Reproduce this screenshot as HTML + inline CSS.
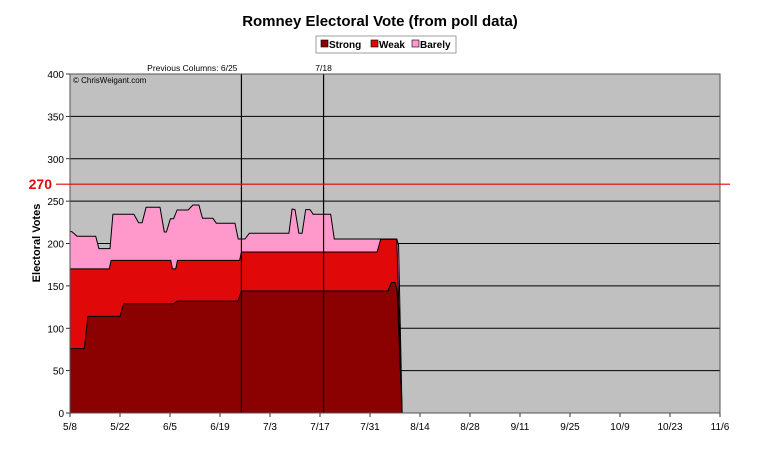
<!DOCTYPE html>
<html><head><meta charset="utf-8"><style>
body{margin:0;background:#fff;width:760px;height:448px;overflow:hidden}
text{font-family:"Liberation Sans",Arial,sans-serif}
</style></head><body>
<svg id="chart" width="760" height="448" xmlns="http://www.w3.org/2000/svg">
<text x="380" y="26" text-anchor="middle" font-size="15" font-weight="bold">Romney Electoral Vote (from poll data)</text>
<g>
<rect x="316" y="36" width="140" height="17" fill="#fff" stroke="#888" stroke-width="0.8"/>
<g><rect x="321" y="40" width="7" height="7" fill="#8b0000" stroke="#000" stroke-width="0.6"/><text x="329" y="48" font-size="10" font-weight="bold">Strong</text></g>
<g><rect x="371" y="40" width="7" height="7" fill="#e00808" stroke="#000" stroke-width="0.6"/><text x="379" y="48" font-size="10" font-weight="bold">Weak</text></g>
<g><rect x="412" y="40" width="7" height="7" fill="#ff99cc" stroke="#000" stroke-width="0.6"/><text x="420" y="48" font-size="10" font-weight="bold">Barely</text></g>
</g>
<rect x="70" y="74" width="650" height="339" fill="#c0c0c0"/>
<g id="grid"></g>
<g id="areas"></g>
<g id="overlay"></g>
<text x="73" y="83" font-size="8">© ChrisWeigant.com</text>
<text transform="translate(40,243) rotate(-90)" text-anchor="middle" font-size="11" font-weight="bold">Electoral Votes</text>
</svg>
<script>
const yTicks=[0,50,100,150,200,250,300,350,400];
const xTickLabels=["5/8","5/22","6/5","6/19","7/3","7/17","7/31","8/14","8/28","9/11","9/25","10/9","10/23","11/6"];
const xTickDays=[0,14,28,42,56,70,84,98,112,126,140,154,168,182];
const markerDays=[48,71];
const markerLabels=["Previous Columns: 6/25","7/18"];
const threshold=270;
const strongDays=[0,4,5,14,15,29,30,47,48,89,90,91,91.6,93];
const strongTop=[76,76,114,114,129,129,132,132,144,144,154,154,145,0];
const weakDays=[0,11,11.5,28.2,28.7,29.6,30.1,47.5,48,86,87,91.5,93];
const weakTop=[170,170,180,180,170,170,180,180,190,190,205,205,0];
const barelyDays=[0,0.5,2,7.2,8.1,11.2,12,17.9,19.2,20.2,21.3,25.2,26.4,27,28.1,29,30,33.1,34.4,36.1,37.1,40,41,46.2,47.1,49,50.2,61.3,62.2,63,64.1,65,66,67.2,68.1,73,74,91.5,92,93];
const barelyTop=[214,214,208.5,208.5,194,194,234.5,234.5,224.6,224.6,242.7,242.7,213.6,213.6,229.3,229.3,239.5,239.5,245.4,245.4,229.7,229.7,223.8,223.8,205.3,205.3,212,212,240.7,240,212,212,240,240,234.5,234.5,205.3,205.3,198,0];

const X0=70,X1=720,Y0=413,Y1=74,DMAX=182,VMAX=400;
const xs=d=>X0+d*(X1-X0)/DMAX;
const ys=v=>Y0-v*(Y0-Y1)/VMAX;
const NS="http://www.w3.org/2000/svg";
function mk(tag,attrs,parent){const e=document.createElementNS(NS,tag);for(const k in attrs)e.setAttribute(k,attrs[k]);parent.appendChild(e);return e;}
const grid=document.getElementById('grid'),areas=document.getElementById('areas'),ov=document.getElementById('overlay');
yTicks.forEach(v=>{
 if(v>0&&v<VMAX){const l=mk('line',{x1:X0,x2:X1,y1:ys(v),y2:ys(v),stroke:'#000','stroke-width':1},grid);
 
 }
 const tk=mk('line',{x1:X0-4,x2:X0,y1:ys(v),y2:ys(v),stroke:'#000','stroke-width':0.8},grid);
 
 
 const t=mk('text',{x:X0-6,y:ys(v)+4,'text-anchor':'end','font-size':10},grid);t.textContent=v;
 
 
});
xTickDays.forEach((d,i)=>{
 const tk=mk('line',{x1:xs(d),x2:xs(d),y1:Y0,y2:Y0+4,stroke:'#000','stroke-width':0.8},grid);
 
 
 const t=mk('text',{x:xs(d),y:Y0+17,'text-anchor':'middle','font-size':10},grid);t.textContent=xTickLabels[i];
 
 
});
function area(days,vals,fill,name){
 let d='M'+xs(days[0])+','+ys(0);
 days.forEach((dd,i)=>{d+=' L'+xs(dd).toFixed(1)+','+ys(vals[i]).toFixed(1);});
 d+=' Z';
 const p=mk('path',{d:d,fill:fill,stroke:'#000','stroke-width':1,'stroke-linejoin':'round'},areas);
 
 
}
area(barelyDays,barelyTop,'#ff99cc','area-barely');
area(weakDays,weakTop,'#e00808','area-weak');
area(strongDays,strongTop,'#8b0000','area-strong');
markerDays.forEach((d,i)=>{
 const l=mk('line',{x1:xs(d),x2:xs(d),y1:Y1,y2:Y0,stroke:'#000','stroke-width':1.2},ov);
 
 
 const t=mk('text',{x:xs(d),y:Y1-3,'text-anchor':i==0?'end':'middle','font-size':8.5},ov);t.textContent=markerLabels[i];
 if(i==0)t.setAttribute('x',xs(d)-4);
 
 
});
mk('rect',{x:X0,y:Y1,width:X1-X0,height:Y0-Y1,fill:'none',stroke:'#555','stroke-width':1},ov);
const tl=mk('line',{x1:56,x2:730,y1:ys(threshold),y2:ys(threshold),stroke:'#e00808','stroke-width':1.2},ov);


const tt=mk('text',{x:52,y:ys(threshold)+5,'text-anchor':'end','font-size':14,'font-weight':'bold',fill:'#e00808'},ov);tt.textContent=threshold;


</script>
</body></html>
